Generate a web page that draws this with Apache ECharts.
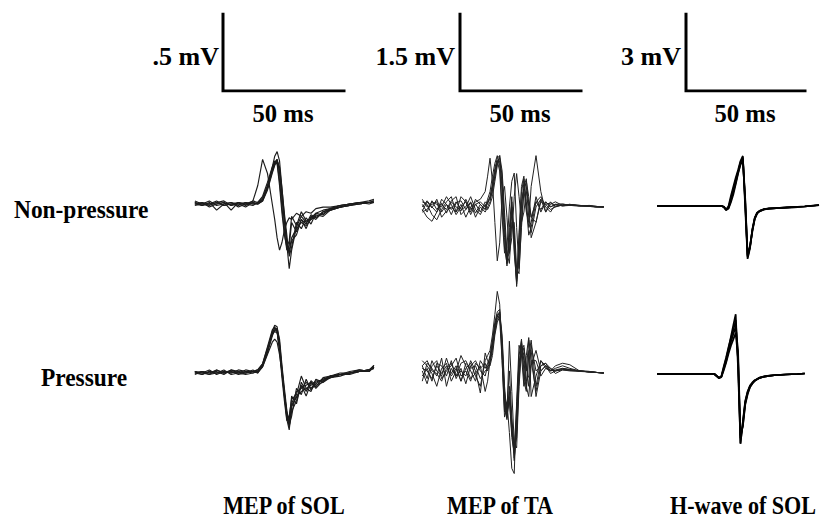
<!DOCTYPE html>
<html>
<head>
<meta charset="utf-8">
<script src="https://cdn.jsdelivr.net/npm/echarts@6/dist/echarts.min.js"></script>
<style>
  html, body { margin: 0; background: #fff; }
  #main { width: 820px; height: 523px; }
</style>
</head>
<body>
<div id="main"></div>
<script>
// time samples (ms) for each column
var tSol = [2, 5, 8, 11, 14, 17, 20, 23, 26, 28, 30, 32, 34, 35, 36, 37, 38, 39, 40, 41, 42, 44, 46, 48, 50, 52, 55, 58, 62, 66, 70, 74, 76];
var tTa = [3, 5, 7, 9, 11, 13, 15, 17, 19, 21, 23, 25, 27, 29, 30, 31, 32, 33, 34, 35, 36, 37, 38, 39, 40, 41, 42, 43, 44, 45, 46, 47, 48, 50, 52, 54, 56, 58, 61, 64, 68, 72, 75, 78];
var tH = [3, 10, 20, 27, 29, 30, 31, 32, 33, 34, 35, 36, 37, 38, 39, 40, 41, 42, 43, 44, 45, 46, 48, 50, 53, 57, 62, 65, 71];

// MEP of SOL (mV), non-pressure
var solNon = [
  [0.01, -0.01, 0.0, 0.02, -0.01, 0.0, 0.01, -0.01, 0.02, 0.12, 0.29, 0.2, 0.0, -0.1, -0.22, -0.3, -0.25, -0.17, -0.12, -0.09, -0.1, -0.06, -0.08, -0.05, -0.06, -0.03, -0.02, -0.02, -0.01, 0.0, 0.01, 0.01, 0.01],
  [0.0, 0.01, -0.02, 0.0, 0.01, -0.01, 0.0, 0.01, 0.0, 0.0, 0.02, 0.1, 0.24, 0.31, 0.34, 0.28, 0.1, -0.08, -0.26, -0.42, -0.3, -0.15, -0.08, -0.12, -0.09, -0.06, -0.04, -0.03, -0.01, 0.0, 0.01, 0.01, 0.02],
  [-0.01, 0.0, 0.02, -0.01, 0.0, 0.01, -0.02, 0.0, 0.01, 0.0, 0.03, 0.11, 0.22, 0.27, 0.29, 0.2, 0.04, -0.12, -0.26, -0.3, -0.22, -0.16, -0.12, -0.14, -0.1, -0.08, -0.06, -0.04, -0.02, -0.01, 0.0, 0.01, 0.01],
  [0.01, 0.0, -0.01, 0.01, 0.02, -0.01, 0.01, 0.0, -0.01, 0.01, 0.05, 0.14, 0.24, 0.28, 0.27, 0.15, -0.02, -0.18, -0.3, -0.27, -0.12, -0.18, -0.1, -0.16, -0.08, -0.1, -0.05, -0.04, -0.02, 0.0, 0.0, 0.01, 0.02],
  [0.0, -0.01, 0.01, -0.04, 0.0, 0.01, 0.0, -0.02, 0.01, 0.0, 0.02, 0.09, 0.2, 0.25, 0.28, 0.24, 0.1, -0.06, -0.2, -0.34, -0.28, -0.12, -0.16, -0.09, -0.13, -0.06, -0.07, -0.03, -0.02, -0.01, 0.01, 0.0, 0.01],
  [0.02, 0.0, 0.0, 0.01, -0.01, 0.0, -0.01, 0.01, 0.0, 0.01, 0.04, 0.12, 0.23, 0.27, 0.26, 0.12, -0.06, -0.2, -0.28, -0.24, -0.08, -0.14, -0.05, -0.11, -0.1, -0.07, -0.08, -0.04, -0.02, -0.01, 0.0, 0.01, 0.01],
  [0.0, 0.01, 0.0, 0.0, 0.01, -0.04, 0.01, 0.0, 0.02, 0.01, 0.03, 0.1, 0.21, 0.26, 0.29, 0.22, 0.06, -0.1, -0.24, -0.32, -0.24, -0.2, -0.1, -0.13, -0.07, -0.09, -0.05, -0.03, -0.01, 0.0, 0.01, 0.02, 0.03]
];
// MEP of SOL (mV), pressure
var solPre = [
  [0.0, 0.01, -0.01, 0.02, 0.0, 0.01, -0.01, 0.0, 0.01, 0.0, 0.05, 0.15, 0.27, 0.31, 0.3, 0.2, 0.03, -0.12, -0.27, -0.35, -0.25, -0.18, -0.08, -0.15, -0.06, -0.1, -0.05, -0.03, -0.01, 0.0, 0.01, 0.02, 0.04],
  [0.01, 0.0, 0.02, -0.01, 0.01, 0.0, 0.02, 0.01, 0.0, 0.01, 0.04, 0.12, 0.2, 0.22, 0.2, 0.12, 0.0, -0.14, -0.28, -0.33, -0.2, -0.12, -0.1, -0.06, -0.1, -0.06, -0.04, -0.02, 0.0, 0.0, 0.02, 0.01, 0.05],
  [-0.01, 0.01, 0.0, 0.0, 0.02, -0.01, 0.0, 0.02, 0.01, 0.02, 0.06, 0.16, 0.26, 0.29, 0.28, 0.18, 0.0, -0.15, -0.3, -0.37, -0.22, -0.15, -0.12, -0.1, -0.08, -0.05, -0.05, -0.02, -0.01, 0.0, 0.01, 0.02, 0.03],
  [0.0, -0.01, 0.01, 0.01, -0.01, 0.02, 0.0, -0.01, 0.0, 0.01, 0.05, 0.14, 0.25, 0.28, 0.27, 0.16, 0.01, -0.13, -0.26, -0.3, -0.15, -0.2, -0.06, -0.12, -0.05, -0.08, -0.06, -0.03, -0.02, 0.0, 0.01, 0.01, 0.04],
  [0.01, 0.0, -0.01, 0.0, 0.01, 0.0, 0.01, 0.0, 0.02, 0.0, 0.04, 0.13, 0.24, 0.28, 0.29, 0.22, 0.05, -0.1, -0.24, -0.34, -0.28, -0.1, -0.14, -0.04, -0.11, -0.07, -0.04, -0.03, -0.01, -0.01, 0.01, 0.02, 0.05],
  [0.0, 0.01, 0.0, 0.02, 0.0, 0.01, 0.0, 0.01, 0.01, 0.02, 0.06, 0.17, 0.28, 0.3, 0.27, 0.14, -0.03, -0.18, -0.31, -0.28, -0.17, -0.14, -0.02, -0.1, -0.12, -0.04, -0.06, -0.02, -0.01, 0.0, 0.01, 0.02, 0.03],
  [0.01, -0.01, 0.01, 0.0, 0.0, 0.02, 0.01, 0.0, 0.01, 0.01, 0.05, 0.15, 0.25, 0.27, 0.26, 0.17, 0.02, -0.14, -0.28, -0.32, -0.21, -0.16, -0.09, -0.08, -0.06, -0.09, -0.03, -0.02, -0.01, 0.01, 0.02, 0.01, 0.04]
];

// MEP of TA (mV), non-pressure
var taNon = [
  [0.05, -0.1, 0.12, -0.05, 0.08, -0.12, 0.1, 0.0, -0.08, 0.15, -0.05, 0.06, -0.1, 0.1, 0.05, 0.2, 0.45, 0.75, 0.95, 1.0, 0.3, -0.6, -1.15, -0.6, 0.1, -0.8, -1.5, -0.6, 0.3, 0.55, 0.1, -0.4, -0.3, 0.2, -0.1, 0.1, 0.0, 0.05, 0.02, 0.04, 0.03, 0.02, 0.0, 0.0],
  [-0.08, 0.1, -0.02, 0.15, -0.1, 0.05, -0.15, 0.08, 0.12, -0.05, 0.1, -0.12, 0.05, -0.05, 0.1, 0.15, 0.3, 0.6, 0.9, 0.95, 0.6, -0.3, -1.0, -0.9, -0.1, -0.5, -1.4, -1.0, 0.0, 0.5, 0.4, -0.2, -0.5, 0.0, 0.15, -0.1, 0.05, 0.1, 0.03, 0.05, 0.02, 0.03, 0.01, 0.0],
  [0.1, 0.05, -0.15, -0.25, -0.05, 0.1, 0.2, -0.1, 0.05, -0.2, 0.0, 0.1, 0.15, 0.3, 0.6, 0.95, 0.5, -0.3, -1.05, -0.7, 0.2, 0.4, -0.2, -0.9, -0.6, 0.2, 0.65, 0.2, -0.3, -0.1, 0.3, 0.1, -0.2, 0.1, -0.05, 0.1, 0.0, 0.05, 0.02, 0.03, 0.02, 0.01, 0.0, 0.0],
  [-0.05, -0.2, -0.28, -0.1, 0.05, -0.05, 0.12, 0.2, -0.15, -0.05, 0.08, -0.2, 0.0, -0.1, 0.0, 0.1, 0.35, 0.6, 0.85, 0.9, 0.45, -0.4, -1.1, -0.7, 0.0, -0.6, -1.55, -0.9, 0.1, 0.35, -0.1, -0.3, 0.4, 1.0, 0.3, -0.1, 0.1, 0.0, 0.05, 0.04, 0.03, 0.02, 0.01, 0.0],
  [0.15, 0.0, 0.05, 0.1, -0.2, -0.08, 0.0, -0.1, 0.2, 0.1, -0.15, 0.05, 0.1, 0.0, 0.15, 0.3, 0.6, 0.85, 1.0, 0.8, 0.0, -0.8, -1.1, -0.4, 0.2, -0.9, -1.45, -0.5, 0.4, 0.6, 0.0, -0.55, -0.4, 0.1, 0.2, 0.0, -0.1, 0.05, 0.06, 0.03, 0.02, 0.02, 0.0, 0.0],
  [0.0, 0.12, 0.0, -0.1, 0.15, 0.05, -0.05, 0.1, -0.05, 0.0, 0.2, -0.05, -0.15, 0.05, -0.05, 0.05, 0.2, 0.5, 0.8, 1.0, 0.7, -0.1, -0.9, -1.1, -0.3, -0.3, -1.2, -1.3, -0.3, 0.4, 0.55, 0.0, -0.6, -0.3, 0.15, 0.05, -0.05, 0.0, 0.04, 0.05, 0.02, 0.02, 0.01, 0.0],
  [-0.1, -0.05, 0.1, 0.05, 0.0, 0.2, 0.05, -0.15, 0.0, 0.1, -0.1, 0.15, 0.05, -0.05, 0.1, 0.2, 0.4, 0.7, 0.9, 0.7, -0.2, -0.9, -0.8, 0.0, 0.5, 0.66, -0.4, -1.2, -0.4, 0.3, 0.5, 0.2, -0.2, -0.3, 0.1, 0.05, 0.08, 0.02, 0.03, 0.05, 0.03, 0.01, 0.0, 0.0]
];
// MEP of TA (mV), pressure
var taPre = [
  [0.1, -0.15, 0.2, 0.0, -0.1, 0.25, -0.05, 0.1, -0.2, 0.05, 0.15, -0.1, -0.3, 0.2, 0.3, 0.4, 0.7, 1.1, 1.55, 1.3, 0.2, -0.8, -0.6, -1.2, -1.9, -2.0, -0.6, 0.5, 0.3, -0.3, 0.3, 0.65, 0.2, -0.4, 0.1, 0.15, 0.0, 0.05, 0.1, 0.05, 0.0, -0.02, -0.03, -0.04],
  [-0.1, 0.05, -0.2, 0.15, 0.1, -0.1, 0.2, -0.15, 0.05, -0.25, 0.1, 0.2, 0.0, -0.1, 0.1, 0.3, 0.6, 0.95, 1.15, 1.2, 0.5, -0.5, -0.9, -0.5, -1.3, -1.6, -0.9, 0.3, 0.6, -0.2, -0.4, 0.3, 0.6, -0.3, 0.2, 0.1, -0.05, 0.0, 0.05, 0.02, 0.0, -0.02, -0.03, -0.04],
  [0.2, 0.1, -0.05, -0.3, 0.05, 0.15, -0.2, 0.0, 0.3, 0.1, -0.15, -0.05, 0.1, -0.4, -0.2, 0.2, 0.5, 0.9, 1.1, 1.0, 0.2, -0.9, -0.7, 0.0, -0.9, -1.5, -1.3, -0.2, 0.55, 0.2, -0.3, -0.5, 0.1, 0.4, 0.0, 0.1, 0.05, -0.05, 0.02, 0.0, -0.01, -0.02, -0.03, -0.04],
  [0.0, -0.25, 0.1, 0.2, -0.15, 0.0, 0.1, 0.25, -0.1, 0.0, -0.2, 0.15, 0.05, 0.15, 0.0, 0.15, 0.4, 0.8, 1.05, 1.15, 0.7, -0.3, -0.85, 0.58, -0.4, -1.4, -1.5, -0.3, 0.4, 0.5, 0.0, 0.6, -0.5, -0.1, 0.2, 0.05, 0.0, 0.1, 0.15, 0.12, 0.0, -0.01, -0.03, -0.04],
  [-0.2, 0.15, 0.05, -0.1, 0.25, -0.3, 0.05, -0.1, 0.15, 0.2, 0.0, -0.2, 0.2, 0.05, 0.15, 0.25, 0.55, 0.85, 1.1, 1.15, 0.4, -0.7, -0.95, -0.3, -1.1, -1.75, -1.1, 0.1, 0.62, 0.0, -0.35, 0.4, 0.4, -0.5, 0.0, 0.1, 0.0, 0.02, 0.05, 0.03, 0.0, -0.02, -0.03, -0.04],
  [0.05, 0.0, -0.15, 0.1, -0.05, 0.1, -0.1, 0.05, -0.2, 0.15, 0.05, 0.1, -0.15, 0.0, 0.05, 0.2, 0.45, 0.75, 1.0, 1.1, 0.6, -0.4, -0.8, -0.6, -1.2, -1.5, -0.7, 0.2, 0.3, 0.45, 0.1, -0.3, 0.2, 0.2, -0.1, 0.05, 0.02, 0.0, 0.03, 0.02, 0.0, -0.01, -0.03, -0.04],
  [0.1, 0.2, 0.0, -0.05, -0.2, 0.05, 0.15, -0.1, 0.0, -0.1, 0.2, 0.0, -0.43, 0.35, 0.2, 0.1, 0.3, 0.7, 0.95, 1.05, 0.5, -0.6, -0.92, -0.4, -1.0, -1.7, -1.2, 0.0, 0.5, 0.3, -0.2, -0.1, 0.5, 0.0, 0.1, 0.15, 0.05, 0.0, 0.02, 0.01, 0.0, -0.02, -0.03, -0.04]
];

// H-wave of SOL (mV)
var hNon = [
  [0, 0.01, -0.01, 0, 0, 0, -0.03, -0.15, -0.05, 0.3, 0.65, 1.0, 1.35, 1.7, 1.9, 0.1, -2.0, -1.6, -0.93, -0.47, -0.27, -0.2, -0.12, -0.1, -0.08, -0.06, -0.04, -0.02, 0.03],
  [0.01, 0, 0, -0.01, 0, 0.01, -0.05, -0.16, -0.1, 0.15, 0.45, 0.85, 1.25, 1.65, 1.85, 0.3, -1.9, -1.55, -0.95, -0.5, -0.3, -0.2, -0.13, -0.1, -0.08, -0.06, -0.04, -0.02, 0.04],
  [0, -0.01, 0, 0, 0.01, 0, -0.02, -0.14, 0.0, 0.4, 0.75, 1.1, 1.4, 1.75, 1.95, -0.1, -2.06, -1.65, -0.9, -0.45, -0.26, -0.19, -0.12, -0.09, -0.08, -0.06, -0.03, -0.01, 0.04],
  [0, 0, 0.01, 0, 0, 0, -0.04, -0.15, -0.08, 0.22, 0.55, 0.9, 1.3, 1.6, 1.8, 0.2, -1.95, -1.6, -1.0, -0.5, -0.28, -0.21, -0.13, -0.1, -0.08, -0.05, -0.03, -0.02, 0.03]
];
var hPre = [
  [0, 0.01, -0.01, 0, -0.16, -0.1, 0.25, 0.6, 1.0, 1.45, 1.9, 2.33, 0.2, -2.7, -1.9, -1.1, -0.7, -0.47, -0.35, -0.25, -0.2, -0.15, -0.1, -0.07, -0.04, -0.02, 0.0, 0.02, null],
  [0, 0, 0, 0.01, -0.15, -0.12, 0.15, 0.45, 0.8, 1.1, 1.35, 1.6, 0.6, -2.5, -2.0, -1.15, -0.75, -0.5, -0.36, -0.26, -0.2, -0.15, -0.1, -0.07, -0.04, -0.02, 0.0, 0.02, null],
  [0.01, 0, 0, 0, -0.17, -0.08, 0.3, 0.65, 1.05, 1.4, 1.7, 2.1, 0.5, -2.72, -1.85, -1.05, -0.68, -0.45, -0.33, -0.24, -0.19, -0.14, -0.09, -0.06, -0.04, -0.02, 0.0, 0.02, null],
  [0, -0.01, 0, 0, -0.14, -0.1, 0.2, 0.5, 0.9, 1.25, 1.55, 1.85, 0.9, -2.4, -2.05, -1.2, -0.8, -0.52, -0.38, -0.27, -0.21, -0.16, -0.1, -0.07, -0.04, -0.02, 0.0, 0.02, null]
];

var barLabels = ['.5 mV', '1.5 mV', '3 mV'];
var barMv = [0.5, 1.5, 3];
var barMs = 50;
var rowLabels = ['Non-pressure', 'Pressure'];
var colLabels = ['MEP of SOL', 'MEP of TA', 'H-wave of SOL'];

var chart = echarts.init(document.getElementById('main'), null, { renderer: 'svg' });

// grids: 0-2 scale bars, 3-8 traces
var grids = [
  { left: 223, top: 14, width: 121, height: 77 },
  { left: 460, top: 14, width: 121, height: 77 },
  { left: 686, top: 14, width: 119, height: 77 },
  { left: 190, top: 142.4, width: 193.6, height: 154 },
  { left: 190, top: 311.4, width: 193.6, height: 154 },
  { left: 415, top: 104.3, width: 193.6, height: 205.3 },
  { left: 415, top: 268.3, width: 193.6, height: 230.9 },
  { left: 650, top: 129, width: 171.4, height: 154 },
  { left: 650, top: 297, width: 171.4, height: 154 }
];
grids.forEach(function (g) { g.outerBoundsMode = 'none'; });

var xRanges = [[0, 50], [0, 50], [0, 50], [0, 80], [0, 80], [0, 80], [0, 80], [0, 72], [0, 72]];
var yRanges = [[0, 0.5], [0, 1.5], [0, 3], [-0.6, 0.4], [-0.6, 0.4], [-2, 2], [-2.5, 2], [-3, 3], [-3, 3]];

var xAxes = xRanges.map(function (r, i) {
  return { type: 'value', gridIndex: i, min: r[0], max: r[1], show: false };
});
var yAxes = yRanges.map(function (r, i) {
  return { type: 'value', gridIndex: i, min: r[0], max: r[1], show: false };
});

var series = [];
barMv.forEach(function (mv, i) {
  series.push({
    type: 'line', xAxisIndex: i, yAxisIndex: i, symbol: 'none', silent: true,
    data: [[0, mv], [0, 0], [barMs, 0]],
    lineStyle: { color: '#000', width: 3, join: 'miter', cap: 'square' }
  });
});

function addTraces(times, traces, idx, color, width) {
  traces.forEach(function (vals) {
    series.push({
      type: 'line', xAxisIndex: idx, yAxisIndex: idx, symbol: 'none', silent: true,
      clip: false,
      data: times.map(function (t, k) { return [t, vals[k]]; }),
      lineStyle: { color: color, width: width }
    });
  });
}
addTraces(tSol, solNon, 3, '#1c1c1c', 1.15);
addTraces(tSol, solPre, 4, '#1c1c1c', 1.15);
addTraces(tTa, taNon, 5, '#222', 1);
addTraces(tTa, taPre, 6, '#222', 1);
addTraces(tH, hNon, 7, '#000', 1.7);
addTraces(tH, hPre, 8, '#000', 1.7);

var font = '"Liberation Serif", "Times New Roman", serif';
function txt(s, x, y, align, size, sx) {
  return {
    type: 'text', x: x, y: y, scaleX: sx || 1, silent: true,
    style: { text: s, font: 'bold ' + size + 'px ' + font, fill: '#000', align: align, verticalAlign: 'middle' }
  };
}
var graphics = [
  txt(barLabels[0], 219, 56, 'right', 26),
  txt(barLabels[1], 455, 56, 'right', 26),
  txt(barLabels[2], 681, 56, 'right', 26),
  txt(barMs + ' ms', 283, 113, 'center', 26, 0.95),
  txt(barMs + ' ms', 520, 113, 'center', 26, 0.95),
  txt(barMs + ' ms', 745, 113, 'center', 26, 0.95),
  txt(rowLabels[0], 14, 209, 'left', 26, 0.9),
  txt(rowLabels[1], 41, 377, 'left', 26, 0.9),
  txt(colLabels[0], 284, 505, 'center', 26, 0.85),
  txt(colLabels[1], 500, 505, 'center', 26, 0.85),
  txt(colLabels[2], 743, 505, 'center', 26, 0.85)
];

chart.setOption({
  animation: false,
  backgroundColor: '#fff',
  grid: grids,
  xAxis: xAxes,
  yAxis: yAxes,
  series: series,
  graphic: graphics
});
</script>
</body>
</html>
